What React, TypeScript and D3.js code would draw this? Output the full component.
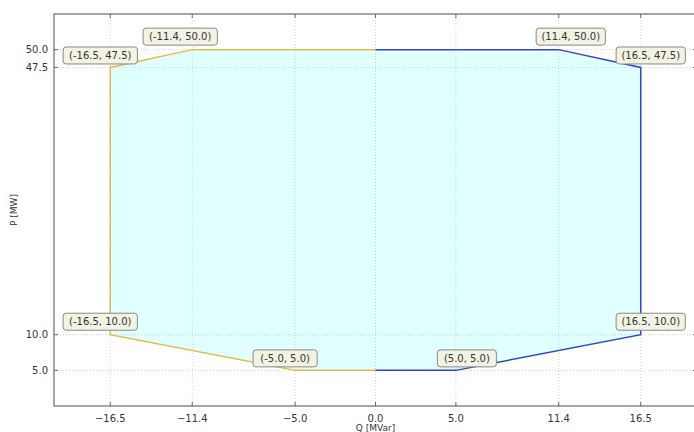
import React from "react";
import * as d3 from "d3";

const leftQ = [0, -5, -16.5, -16.5, -11.4, 0];
const leftP = [5, 5, 10, 47.5, 50, 50];
const rightQ = [0, 11.4, 16.5, 16.5, 5, 0];
const rightP = [50, 50, 47.5, 10, 5, 5];
const xTicks = [-16.5, -11.4, -5.0, 0.0, 5.0, 11.4, 16.5];
const yTicks = [5.0, 10.0, 47.5, 50.0];
const labelQ = [-16.5, -11.4, 11.4, 16.5, -16.5, -5.0, 5.0, 16.5];
const labelP = [47.5, 50.0, 50.0, 47.5, 10.0, 5.0, 5.0, 10.0];
const labelDx = [-10, -12, 12, 10, -10, -10, 11, 10];
const labelDy = [-12, -13, -13, -12, -13, -12, -12, -13];

const W = 694, H = 432;
const m = { left: 54, top: 14, right: 697, bottom: 406 };

export default function App() {
  const x = d3.scaleLinear().domain([-20, 20]).range([m.left, m.right]);
  const y = d3.scaleLinear().domain([0, 55]).range([m.bottom, m.top]);
  const line = d3.line<[number, number]>().x(d => x(d[0])).y(d => y(d[1]));
  const leftPts: [number, number][] = leftQ.map((q, i) => [q, leftP[i]]);
  const rightPts: [number, number][] = rightQ.map((q, i) => [q, rightP[i]]);
  const poly = [...leftPts, ...rightPts.slice(1)];
  const f1 = (v: number) => v.toFixed(1);
  const font = "DejaVu Sans, sans-serif";
  return (
    <svg width={W} height={H} style={{ position: "absolute", left: 0, top: 0 }}>
      <rect x={0} y={0} width={W} height={H} fill="#fff" />
      <path d={line(poly) + "Z"} fill="#e0ffff" stroke="none" />
      {xTicks.map((t, i) => (
        <line key={"gx" + i} x1={x(t)} x2={x(t)} y1={m.top} y2={m.bottom} stroke="#c4c4c4" strokeWidth={0.8} strokeDasharray="1,2" />
      ))}
      {yTicks.map((t, i) => (
        <line key={"gy" + i} x1={m.left} x2={m.right} y1={y(t)} y2={y(t)} stroke="#c4c4c4" strokeWidth={0.8} strokeDasharray="1,2" />
      ))}
      <path d={line(leftPts) ?? ""} fill="none" stroke="#e8b84a" strokeWidth={1.5} />
      <path d={line(rightPts) ?? ""} fill="none" stroke="#3344cc" strokeWidth={1.5} />
      <rect x={m.left} y={m.top} width={m.right - m.left} height={m.bottom - m.top} fill="none" stroke="#888" strokeWidth={1.5} />
      {xTicks.map((t, i) => (
        <g key={"tx" + i}>
          <line x1={x(t)} x2={x(t)} y1={m.bottom} y2={m.bottom - 4} stroke="#666" strokeWidth={1} />
          <line x1={x(t)} x2={x(t)} y1={m.top} y2={m.top + 4} stroke="#666" strokeWidth={1} />
          <text x={x(t)} y={m.bottom + 16} textAnchor="middle" fontSize={10} fontFamily={font} fill="#333">
            {t < 0 ? "\u2212" + f1(-t) : f1(t)}
          </text>
        </g>
      ))}
      {yTicks.map((t, i) => (
        <g key={"ty" + i}>
          <line x1={m.left} x2={m.left + 4} y1={y(t)} y2={y(t)} stroke="#666" strokeWidth={1} />
          <line x1={m.right} x2={m.right - 4} y1={y(t)} y2={y(t)} stroke="#666" strokeWidth={1} />
          <text x={m.left - 6} y={y(t) + 3.5} textAnchor="end" fontSize={10} fontFamily={font} fill="#333">
            {f1(t)}
          </text>
        </g>
      ))}
      <text x={x(0)} y={431} textAnchor="middle" fontSize={9} fontFamily={font} fill="#333">Q [MVar]</text>
      <text transform={`translate(17,${(m.top + m.bottom) / 2}) rotate(-90)`} textAnchor="middle" fontSize={9} fontFamily={font} fill="#333">P [MW]</text>
      {labelQ.map((q, i) => {
        const txt = `(${f1(q)}, ${f1(labelP[i])})`;
        const cx = x(q) + labelDx[i];
        const cy = y(labelP[i]) + labelDy[i];
        const w = txt.length * 5.1 + 8;
        return (
          <g key={"lb" + i}>
            <rect x={cx - w / 2} y={cy - 8.5} width={w} height={17} rx={3} fill="#f3f3e3" stroke="#888" strokeWidth={1} />
            <text x={cx} y={cy + 3.5} textAnchor="middle" fontSize={10} fontFamily={font} fill="#333">{txt}</text>
          </g>
        );
      })}
    </svg>
  );
}
